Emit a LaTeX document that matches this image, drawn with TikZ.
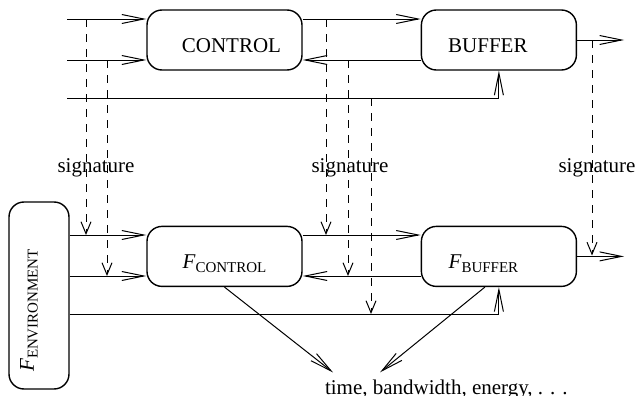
\documentclass[tikz,border=0pt]{standalone}
\usepackage{fontspec}
\setmainfont{Liberation Serif}
\usepackage{graphicx}
\usepackage{tikz}
\usetikzlibrary{arrows.meta, positioning}
\newcommand{\fsub}[1]{\textit{F}\raisebox{-1.9pt}{\fontsize{7.5}{9}\selectfont #1}}

\begin{document}
\begin{tikzpicture}[
  x=0.5pt, y=-0.5pt,
  every node/.style={font=\fontsize{10.5}{12.6}\selectfont},
  box/.style={rectangle, rounded corners=7.5pt, draw, line width=0.7pt,
              minimum width=77.5pt, minimum height=30pt, text centered,
              text height=12.5pt, text depth=0pt},
  flow/.style={-{Straight Barb[length=11pt, width=4.5pt]}, line width=0.5pt},
  sig/.style={-{Straight Barb[length=6pt, width=5pt]}, line width=0.5pt,
              dash pattern=on 4pt off 3.5pt}
]
\useasboundingbox (0,0) rectangle (639,396);

% Top row: the system
\node[box] (control) at (224.5,40) {\hspace*{7pt}CONTROL};
\node[box, right=59pt of control] (buffer) {BUFFER\hspace*{11pt}};

% Bottom row: its models
\node[box, below=77.5pt of control] (fcontrol) {\fsub{CONTROL}};
\node[box, below=77.5pt of buffer] (fbuffer) {\fsub{BUFFER}\hspace*{15.5pt}};
\node[box, minimum width=30pt, minimum height=93.5pt,
      text height={}, text depth={}] (env) at (39,295.5)
     {\rotatebox{90}{\fsub{ENVIRONMENT}\hspace*{15pt}}\hspace*{10pt}};

% Rows
\coordinate (r1) at (67,19);
\coordinate (r2) at (67,60);
\coordinate (r3) at (67,98);
\coordinate (q1) at (0,235);
\coordinate (q2) at (0,276);
\coordinate (q3) at (0,314);

% Top arrows
\draw[flow] (r1) -- (control.west |- r1);
\draw[flow] (control.east |- r1) -- (buffer.west |- r1);
\draw[flow] (r2) -- (control.west |- r2);
\draw[flow] (buffer.west |- r2) -- (control.east |- r2);
\draw[flow] (r3) -| (buffer.south);
\draw[flow] (buffer.east) -- ([xshift=23.5pt]buffer.east);

% Bottom arrows
\draw[flow] (env.east |- q1) -- (fcontrol.west |- q1);
\draw[flow] (fcontrol.east |- q1) -- (fbuffer.west |- q1);
\draw[flow] (env.east |- q2) -- (fcontrol.west |- q2);
\draw[flow] (fbuffer.west |- q2) -- (fcontrol.east |- q2);
\draw[flow] (env.east |- q3) -| (fbuffer.south);
\draw[flow] (fbuffer.east) -- ([xshift=23.5pt]fbuffer.east);

% Signatures
\foreach \n/\x/\a/\b in {a/86/19/235, b/107/60/276, c/326/19/235,
                         d/348/60/276, e/371/98/314, f/592/40/255.5} {
  \coordinate (tap\n) at (\x,\a);
  \coordinate (end\n) at (\x,\b);
  \draw[sig] (tap\n) -- (end\n);
}
\node (sig1) at (96,168) {signature};
\node (sig2) at (350,168) {signature};
\node (sig3) at (597,168) {signature};

% Costs
\node[anchor=west] (cost) at (318,389)
     {time, bandwidth, energy, .\kern0.33em.\kern0.33em.};
\draw[flow] (fcontrol.south) -- ([xshift=7.5pt]cost.north west);
\draw[flow] ([xshift=-7pt]fbuffer.south) -- ([xshift=31pt]cost.north west);
\end{tikzpicture}
\end{document}
